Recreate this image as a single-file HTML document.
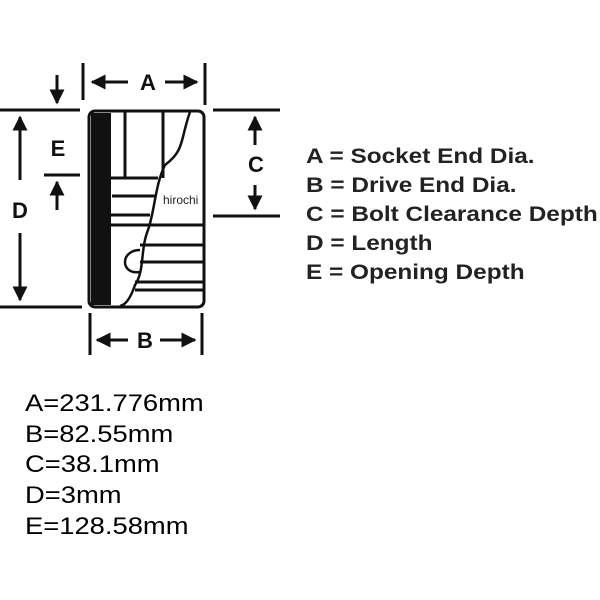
<!DOCTYPE html>
<html><head><style>
body{margin:0;width:600px;height:600px;background:#fff;overflow:hidden;position:relative;font-family:"Liberation Sans",sans-serif}
.l{position:absolute;left:306px;font-weight:bold;font-size:21px;color:#222;white-space:nowrap;transform:scaleX(1.16);transform-origin:0 0}
.b{position:absolute;left:25px;font-size:24px;color:#000;white-space:nowrap;transform:scaleX(1.14);transform-origin:0 0}
</style></head><body>
<svg width="600" height="600" style="position:absolute;left:0;top:0" font-family="Liberation Sans" font-weight="bold">
<defs><marker id="a" viewBox="0 0 10 10" refX="9" refY="5" markerWidth="5" markerHeight="5" orient="auto"><path d="M0,0L10,5L0,10z" fill="#111"/></marker></defs>
<g stroke="#111" stroke-width="3" fill="none">
<line x1="0" y1="110" x2="80" y2="110"/><line x1="44" y1="175" x2="80" y2="175"/><line x1="0" y1="307" x2="82" y2="307"/>
<line x1="213" y1="110" x2="280" y2="110"/><line x1="213" y1="216" x2="280" y2="216"/>
<line x1="83" y1="63" x2="83" y2="100"/><line x1="205" y1="63" x2="205" y2="105"/>
<line x1="90" y1="313" x2="90" y2="355"/><line x1="202" y1="313" x2="202" y2="355"/>
<line x1="128" y1="82" x2="92" y2="82" marker-end="url(#a)"/><line x1="165" y1="82" x2="197" y2="82" marker-end="url(#a)"/>
<line x1="128" y1="340" x2="97" y2="340" marker-end="url(#a)"/><line x1="160" y1="340" x2="195" y2="340" marker-end="url(#a)"/>
<line x1="20" y1="180" x2="20" y2="117" marker-end="url(#a)"/><line x1="20" y1="233" x2="20" y2="300" marker-end="url(#a)"/>
<line x1="57" y1="75" x2="57" y2="103" marker-end="url(#a)"/><line x1="57" y1="210" x2="57" y2="182" marker-end="url(#a)"/>
<line x1="255" y1="145" x2="255" y2="117" marker-end="url(#a)"/><line x1="255" y1="185" x2="255" y2="209" marker-end="url(#a)"/>
<rect x="89" y="111" width="115" height="196" rx="6"/>
<line x1="125" y1="112" x2="125" y2="178"/><line x1="163" y1="112" x2="163" y2="178"/>
<line x1="102" y1="178" x2="158" y2="178"/><line x1="112" y1="196" x2="155" y2="196"/><line x1="108" y1="215" x2="150" y2="215"/>
<line x1="110" y1="225" x2="204" y2="225"/><line x1="140" y1="245" x2="204" y2="245"/><line x1="140" y1="262" x2="204" y2="262"/>
<line x1="135" y1="282" x2="204" y2="282"/><line x1="135" y1="290" x2="204" y2="290"/>
<path d="M190,112 C180,140 185,150 165,165 C155,185 155,210 148,230 C140,250 145,270 135,285 C130,300 125,305 120,306" stroke-width="2.5"/>
<path d="M140,250 C120,250 120,275 140,272" stroke-width="2.5"/>
</g>
<rect x="91" y="113" width="20" height="192" fill="#111"/>
<g font-size="22" fill="#111" text-anchor="middle">
<text x="148" y="90">A</text><text x="145" y="348">B</text><text x="256" y="172">C</text><text x="20" y="218">D</text><text x="58" y="156">E</text>
</g>
<text x="163" y="204" font-size="12" font-weight="normal" fill="#222">hirochi</text>
</svg>
<div class="l" style="top:145px">A = Socket End Dia.</div>
<div class="l" style="top:174px">B = Drive End Dia.</div>
<div class="l" style="top:203px">C = Bolt Clearance Depth</div>
<div class="l" style="top:232px">D = Length</div>
<div class="l" style="top:261px">E = Opening Depth</div>
<div class="b" style="top:390px">A=231.776mm</div>
<div class="b" style="top:421px">B=82.55mm</div>
<div class="b" style="top:451px">C=38.1mm</div>
<div class="b" style="top:482px">D=3mm</div>
<div class="b" style="top:513px">E=128.58mm</div>
</body></html>
